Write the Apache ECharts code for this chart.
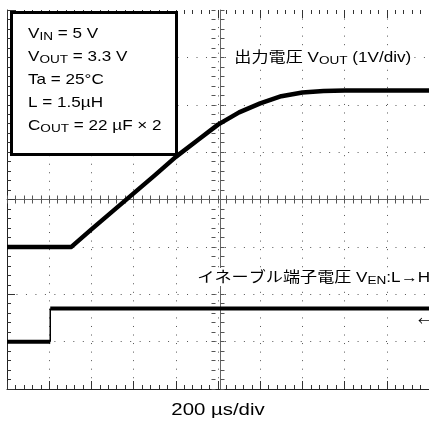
<!DOCTYPE html>
<html>
<head>
<meta charset="utf-8">
<script src="https://cdn.jsdelivr.net/npm/echarts@6/dist/echarts.min.js"></script>
<style>
html,body{margin:0;padding:0;background:#fff;}
#chart{width:429px;height:423px;}
</style>
</head>
<body>
<div id="chart"></div>
<script>
// ---- Data ----
// time axis: 200 us/div, 10 divisions
const timeMinUs = 0;
const timeMaxUs = 2000;
const timeStepUs = 200;
// vertical: 8 divisions
const divMin = 0;
const divMax = 8;
// Output voltage trace (1 V/div), ground marker at 3 div from bottom
const voutGroundDiv = 3;
const voutVoltPerDiv = 1;
const voutTimeUs = [0, 305, 400, 500, 600, 700, 800, 900, 1000, 1100, 1200, 1300, 1400, 1500, 1600, 2000];
const voutVolts  = [0, 0, 0.37, 0.75, 1.13, 1.51, 1.90, 2.24, 2.58, 2.84, 3.03, 3.18, 3.26, 3.29, 3.30, 3.30];
// Enable pin trace (levels in divisions above its ground marker at 1 div)
const enGroundDiv = 1;
const enStepUs = 205;
const enLowDiv = 0;
const enHighDiv = 0.7;

// ---- Build series data ----
const voutData = voutTimeUs.map((t, i) => [t, voutGroundDiv + voutVolts[i] / voutVoltPerDiv]);
const enLowData = [[timeMinUs, enGroundDiv + enLowDiv], [enStepUs, enGroundDiv + enLowDiv]];
const enEdgeData = [[enStepUs, enGroundDiv + enLowDiv], [enStepUs, enGroundDiv + enHighDiv]];
const enHighData = [[enStepUs, enGroundDiv + enHighDiv], [timeMaxUs, enGroundDiv + enHighDiv]];

const GRID = {left: 7, top: 10, width: 427, height: 379};
const FONT = "'Liberation Sans', Arial, 'Noto Sans CJK JP', sans-serif";
const SX = 1.18;

function xAx(extra) {
  return Object.assign({
    type: 'value', min: timeMinUs, max: timeMaxUs, interval: timeStepUs,
    axisLabel: {show: false},
    splitLine: {show: false},
    axisLine: {show: false, onZero: false, lineStyle: {color: '#222', width: 1}},
    axisTick: {show: true, inside: true, length: 8, lineStyle: {color: '#333'}},
    minorTick: {show: true, splitNumber: 5, length: 4, lineStyle: {color: '#333'}}
  }, extra);
}
function yAx(extra) {
  return Object.assign({
    type: 'value', min: divMin, max: divMax, interval: 1,
    axisLabel: {show: false},
    splitLine: {show: false},
    axisLine: {show: false, onZero: false, lineStyle: {color: '#222', width: 1}},
    axisTick: {show: true, inside: true, length: 8, lineStyle: {color: '#333'}},
    minorTick: {show: true, splitNumber: 5, length: 4, lineStyle: {color: '#333'}}
  }, extra);
}

const rich = {
  m: {fontSize: 14.5, fontFamily: FONT, lineHeight: 16, verticalAlign: 'bottom', fill: '#000'},
  s: {fontSize: 11.5, fontFamily: FONT, lineHeight: 16, height: 9, verticalAlign: 'bottom', fill: '#000'}
};
function rtext(x, y, text, extraStyle) {
  return {
    type: 'text', x: x, y: y, scaleX: SX, z: 100,
    style: Object.assign({text: text, rich: rich, x: 0, y: 0, align: 'left', verticalAlign: 'top',
      fontSize: 14.5, fontFamily: FONT, fill: '#000'}, extraStyle || {})
  };
}

const chart = echarts.init(document.getElementById('chart'), null, {renderer: 'canvas'});
chart.setOption({
  animation: false,
  backgroundColor: '#fff',
  grid: GRID,
  xAxis: [
    xAx({position: 'bottom',
      axisLine: {show: true, onZero: false, lineStyle: {color: '#222', width: 1}},
      splitLine: {show: true, showMinLine: false, lineStyle: {color: '#555', width: 1, type: [1, 7.54]}}}),
    xAx({position: 'top'}),
    xAx({position: 'bottom', offset: -189.5,
      axisLine: {show: true, onZero: false, lineStyle: {color: '#666', width: 1}},
      axisTick: {show: true, inside: true, length: 4, lineStyle: {color: '#555'}},
      minorTick: {show: true, splitNumber: 5, length: 4, lineStyle: {color: '#555'}}}),
    xAx({position: 'top', offset: -189.5,
      axisTick: {show: true, inside: true, length: 4, lineStyle: {color: '#555'}},
      minorTick: {show: true, splitNumber: 5, length: 4, lineStyle: {color: '#555'}}})
  ],
  yAxis: [
    yAx({position: 'left',
      axisLine: {show: true, onZero: false, lineStyle: {color: '#222', width: 1}},
      splitLine: {show: true, showMinLine: false, showMaxLine: false, lineStyle: {color: '#555', width: 1, type: [1, 8.475]}}}),
    yAx({position: 'left', offset: -213.5,
      axisLine: {show: true, onZero: false, lineStyle: {color: '#666', width: 1}},
      axisTick: {show: true, inside: true, length: 4, lineStyle: {color: '#555'}},
      minorTick: {show: true, splitNumber: 5, length: 4, lineStyle: {color: '#555'}}}),
    yAx({position: 'right', offset: -213.5,
      axisTick: {show: true, inside: true, length: 4, lineStyle: {color: '#555'}},
      minorTick: {show: true, splitNumber: 5, length: 4, lineStyle: {color: '#555'}}})
  ],
  series: [
    {type: 'line', name: 'VOUT', data: voutData, showSymbol: false, z: 10,
      lineStyle: {color: '#000', width: 4.5, join: 'round'}},
    {type: 'line', name: 'VEN low', data: enLowData, showSymbol: false, z: 10,
      lineStyle: {color: '#000', width: 4}},
    {type: 'line', name: 'VEN edge', data: enEdgeData, showSymbol: false, z: 10,
      lineStyle: {color: '#000', width: 1.5}},
    {type: 'line', name: 'VEN high', data: enHighData, showSymbol: false, z: 10,
      lineStyle: {color: '#000', width: 4}}
  ],
  graphic: [
    {type: 'rect', z: 99, shape: {x: 11.5, y: 12.5, width: 165, height: 142},
      style: {fill: '#fff', stroke: '#000', lineWidth: 3}},
    rtext(28, 25, '{m|V}{s|IN}{m| = 5 V}'),
    rtext(28, 48, '{m|V}{s|OUT}{m| = 3.3 V}'),
    rtext(28, 71, '{m|Ta = 25°C}'),
    rtext(28, 94.5, '{m|L = 1.5µH}'),
    rtext(28, 117, '{m|C}{s|OUT}{m| = 22 µF × 2}'),
    rtext(232, 48, '{m|出力電圧 V}{s|OUT}{m| (1V/div)}', {backgroundColor: '#fff', padding: [1, 2]}),
    rtext(195, 268, '{m|イネーブル端子電圧 V}{s|EN}{m|:L→H}', {backgroundColor: '#fff', padding: [1, 2]}),
    {type: 'text', x: 218, y: 410.5, scaleX: 1.2, z: 100,
      style: {text: '200 µs/div', x: 0, y: 0, align: 'center', verticalAlign: 'middle',
        fontSize: 17, fontFamily: FONT, fill: '#000'}},
    {type: 'text', x: 418, y: 321, z: 100,
      style: {text: '←', x: 0, y: 0, align: 'left', verticalAlign: 'middle',
        fontSize: 12, fontFamily: "'Noto Sans CJK JP', sans-serif", fill: '#000'}}
  ]
});
</script>
</body>
</html>
